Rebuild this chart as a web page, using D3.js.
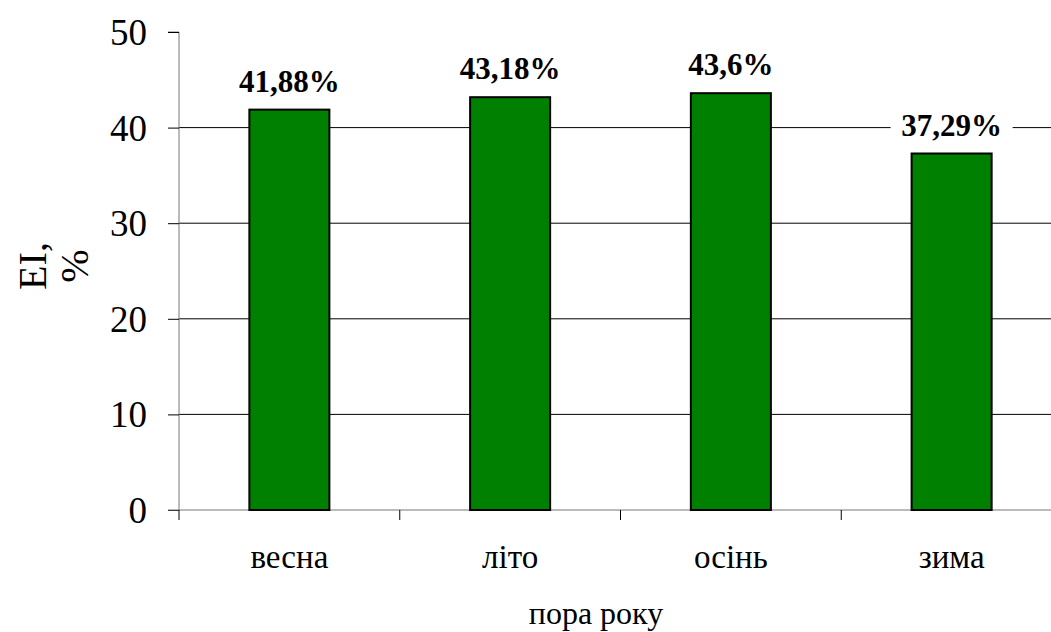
<!DOCTYPE html>
<html>
<head>
<meta charset="utf-8">
<script src="https://cdn.jsdelivr.net/npm/d3@7"></script>
<style>
  body { margin: 0; background: #fff; }
</style>
</head>
<body>
<div id="chart"></div>
<script>
// data
var seasons = ['весна', 'літо', 'осінь', 'зима'];
var values = [41.88, 43.18, 43.6, 37.29];
var valueLabels = ['41,88%', '43,18%', '43,6%', '37,29%'];
var yTicks = [0, 10, 20, 30, 40, 50];

var serif = '"Times New Roman", "Liberation Serif", serif';

// svg container
var width = 1051;
var height = 632;

// plot area (right side runs past the picture edge, as in the original)
var plot = { left: 179, right: 1062, top: 32, bottom: 510 };

var svg = d3.select('#chart').append('svg')
    .attr('width', width)
    .attr('height', height)
    .style('font-family', serif);

var x = d3.scaleBand()
    .domain(seasons)
    .range([plot.left, plot.right])
    .padding(0);

var y = d3.scaleLinear()
    .domain([0, 50])
    .range([plot.bottom, plot.top]);

var barWidth = x.bandwidth() * 0.3625;

// gridlines
svg.append('g')
    .selectAll('line')
    .data(yTicks.filter(d => d > 0 && d < 50))
    .enter()
    .append('line')
    .attr('x1', plot.left)
    .attr('x2', width)
    .attr('y1', d => y(d))
    .attr('y2', d => y(d))
    .attr('stroke', '#000')
    .attr('stroke-width', 1);

// y axis
var leftAxis = d3.axisLeft(y)
    .tickValues(yTicks)
    .tickSize(11)
    .tickPadding(21)
    .tickFormat(d3.format('d'));

var yAxis = svg.append('g')
    .attr('transform', `translate(${plot.left}, 0)`)
    .call(leftAxis)
    .attr('font-family', serif);

yAxis.select('.domain').attr('stroke', '#777').attr('d', `M-11,${plot.top}H0V${plot.bottom}`);
yAxis.selectAll('.tick line').attr('stroke', '#000');
yAxis.selectAll('.tick text')
    .style('font-family', serif)
    .style('font-size', '37px')
    .attr('dy', '0.34em');

// x axis
var bottomAxis = d3.axisBottom(x).tickSize(0).tickPadding(28);

var xAxis = svg.append('g')
    .attr('transform', `translate(0, ${plot.bottom})`)
    .call(bottomAxis)
    .attr('font-family', serif);

xAxis.select('.domain').attr('stroke', '#777').attr('d', `M${plot.left - 11},0H${width}`);
xAxis.selectAll('.tick text')
    .style('font-family', serif)
    .style('font-size', '33px')
    .attr('dy', '0.9em');

// category separator ticks
svg.append('g')
    .selectAll('line')
    .data(seasons)
    .enter()
    .append('line')
    .attr('x1', d => x(d))
    .attr('x2', d => x(d))
    .attr('y1', plot.bottom)
    .attr('y2', plot.bottom + 10)
    .attr('stroke', '#000');

// bars
svg.append('g')
    .selectAll('rect')
    .data(values)
    .enter()
    .append('rect')
    .attr('x', (d, i) => x(seasons[i]) + x.bandwidth() / 2 - barWidth / 2)
    .attr('y', d => y(d))
    .attr('width', barWidth)
    .attr('height', d => y(0) - y(d))
    .attr('fill', '#008000')
    .attr('stroke', '#000')
    .attr('stroke-width', 2);

// value labels with white backing
var labels = svg.append('g')
    .selectAll('g')
    .data(values)
    .enter()
    .append('g')
    .attr('transform', (d, i) => `translate(${x(seasons[i]) + x.bandwidth() / 2}, ${y(d) - 18})`);

labels.append('rect')
    .attr('x', -61)
    .attr('y', -26)
    .attr('width', 122)
    .attr('height', 32)
    .attr('fill', '#fff');

labels.append('text')
    .attr('text-anchor', 'middle')
    .style('font-family', serif)
    .style('font-size', '31px')
    .style('font-weight', 'bold')
    .text((d, i) => valueLabels[i]);

// y axis title
var yTitle = svg.append('text')
    .attr('transform', 'translate(46, 266) rotate(-90)')
    .attr('text-anchor', 'middle')
    .style('font-family', serif)
    .style('font-size', '40px');

yTitle.append('tspan').attr('x', 0).attr('y', 0).text('EI,');
yTitle.append('tspan').attr('x', 0).attr('y', 42).text('%');

// x axis title
svg.append('text')
    .attr('x', 596)
    .attr('y', 624)
    .attr('text-anchor', 'middle')
    .style('font-family', serif)
    .style('font-size', '32px')
    .text('пора року');
</script>
</body>
</html>
